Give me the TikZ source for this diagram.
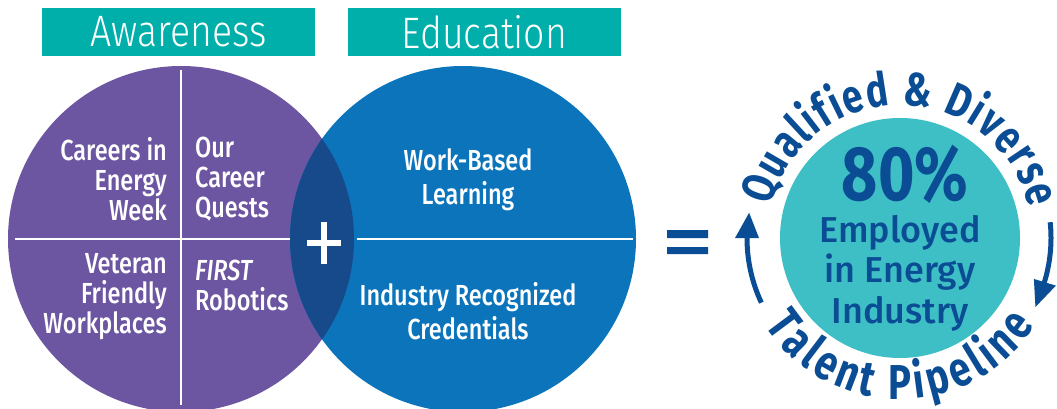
\documentclass[tikz,border=0pt]{standalone}
\usepackage{fontspec}
\setmainfont{Fira Sans}[FakeStretch=0.81, UprightFont=* Medium, ItalicFont=* Medium Italic, BoldFont=* Bold]
\newfontfamily\widefont{Fira Sans}[UprightFont=* Medium]
\newfontfamily\headfont{Fira Sans Light}[FakeStretch=0.85]
\newfontfamily\arcfont{Fira Sans Bold}[FakeStretch=0.78]
\usetikzlibrary{decorations.text}
\definecolor{purp}{HTML}{6D56A1}
\definecolor{edublue}{HTML}{0B74BB}
\definecolor{lensblue}{HTML}{174A8B}
\definecolor{boxteal}{HTML}{00AFAA}
\definecolor{ringteal}{HTML}{3EBFC5}
\definecolor{navy}{HTML}{0A4D94}

\begin{document}
\begin{tikzpicture}[x=1pt, y=1pt,
    hdr/.style={fill=boxteal, minimum width=273, minimum height=48, inner sep=0, text=white, font=\headfont\fontsize{44}{44}\selectfont},
    lbl/.style={text=white, inner sep=0, font=\fontsize{29}{30}\selectfont},
    edulbl/.style={text=white, inner sep=0, align=center, anchor=north, font=\fontsize{29}{34.5}\selectfont},
    divider/.style={draw=white, line width=1.5},
    curl/.style={draw=navy, line width=5}]
    \useasboundingbox (0,0) rectangle (1057,408);

    \node[hdr] (awarebox) at (178.5,376) {Awareness};
    \node[hdr] (edubox) at (484.5,376) {Education};

    \node[circle, fill=purp, minimum size=346, inner sep=0] (aware) at (181,169) {};
    \node[circle, fill=edublue, minimum size=346, inner sep=0] (edu) at (463,169) {};
    \begin{scope}
      \clip (181,169) circle[radius=173];
      \fill[lensblue] (463,169) circle[radius=173];
    \end{scope}

    % dividers
    \draw[divider] (181,338) -- (181,3);
    \draw[divider] (15,169) -- (290,169);
    \draw[divider] (357,169) -- (633,169);

    \node[lbl, align=right, anchor=north east] (ciew) at (167,271) {Careers in\\Energy\\Week};
    \node[lbl, align=left, anchor=north west] (ocq) at (195,271) {Our\\Career\\Quests};
    \node[lbl, align=right, anchor=north east] (vfw) at (167,155) {Veteran\\Friendly\\Workplaces};
    \node[lbl, align=left, anchor=north west] (first) at (195,148) {\textit{FIRST}\\Robotics};
    \node[edulbl] (wbl) at (468,260) {Work-Based\\Learning};
    \node[edulbl] (irc) at (468,126) {Industry Recognized\\Credentials};

    \draw[white, line width=5.5] (307,165) -- (341,165) (324,144) -- (324,186);
    \fill[navy] (667,170) rectangle (708,178) (667,154) rectangle (708,161);

    \node[circle, fill=ringteal, minimum size=240, inner sep=0] (ring) at (900,170) {};
    \node[text=navy, anchor=base, inner sep=0, font=\bfseries\fontsize{77}{77}\selectfont] (pct) at (905,208) {80\%};
    \node[text=navy, anchor=north, align=center, inner sep=0, font=\widefont\fontsize{36}{40.5}\selectfont] (emp) at (900,193) {Employed\\in Energy\\Industry};

    \path[decorate, decoration={text along path, text align={fit to path}, text color=navy,
      text={|\arcfont\fontsize{47}{47}\selectfont|Qualified {\&} Diverse}}]
      (ring.center) ++(166:133) arc[start angle=166, end angle=13, radius=133];
    \path[decorate, decoration={text along path, text align={fit to path}, text color=navy,
      text={|\arcfont\fontsize{49}{49}\selectfont|Talent Pipeline}}]
      (ring.center) ++(213:161) arc[start angle=213, end angle=327, radius=161];

    \draw[curl] (ring.center) ++(205:153) arc[start angle=205, end angle=179, radius=153];
    \fill[navy] ([shift={(170.5:153)}]ring.center) -- ([shift={(180:141)}]ring.center)
      -- ([shift={(180:165)}]ring.center) -- cycle;
    \draw[curl] (ring.center) ++(6:151) arc[start angle=6, end angle=-17.5, radius=151];
    \fill[navy] ([shift={(-27:152)}]ring.center) -- ([shift={(-17:140)}]ring.center)
      -- ([shift={(-17:163)}]ring.center) -- cycle;
  \end{tikzpicture}
\end{document}
